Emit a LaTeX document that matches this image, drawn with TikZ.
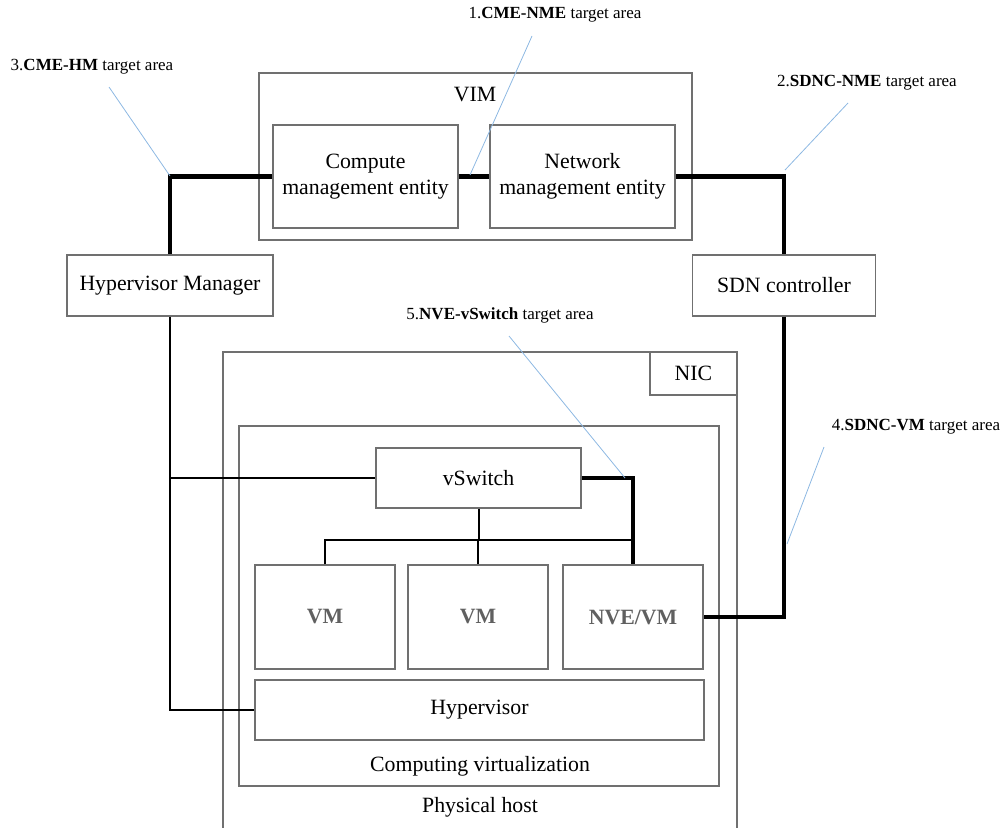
\documentclass[tikz,border=0pt]{standalone}
\usepackage{fontspec}
\setmainfont{Liberation Serif}
\begin{document}
\begin{tikzpicture}[x=1pt,y=-1pt,
  box/.style={draw=boxgray, line width=1.3pt, rectangle, inner sep=0pt, align=center,
    font=\fontsize{21.8}{25.5}\selectfont},
  vmbox/.style={box, text=vmgray, font=\fontsize{21.8}{25.5}\selectfont\bfseries},
  frame/.style={draw=boxgray, line width=1.3pt},
  lbl/.style={font=\fontsize{21.8}{25.5}\selectfont, inner sep=0pt},
  tag/.style={font=\fontsize{17}{20}\selectfont, inner sep=0pt},
  link/.style={line width=2pt, black},
  heavy/.style={line width=4.5pt, black},
  leader/.style={line width=0.8pt, leadblue}]
\definecolor{boxgray}{HTML}{707070}
\definecolor{vmgray}{HTML}{606060}
\definecolor{leadblue}{HTML}{8DB8E2}
\useasboundingbox (0,0) rectangle (1003,827);

% VIM and its two entities
\draw[frame] (259,73) rectangle (692,240);
\node[lbl] (vim) at (475,95) {VIM};
\node[box, minimum width=185pt, minimum height=103pt] (cme) at (365.5,176.5) {Compute\\management entity};
\node[box, minimum width=185pt, minimum height=103pt] (nme) at (582.5,176.5) {Network\\management entity};

% managers
\node[box, minimum width=206pt, minimum height=61pt] (hm) at (170,285.5) {Hypervisor Manager};
\node[box, minimum width=183pt, minimum height=61pt] (sdn) at (784,285.5) {SDN controller};

% physical host (runs past the lower edge)
\draw[frame] (223,840) -- (223,352) -- (737,352) -- (737,840);
\node[lbl] (ph) at (480,807) {Physical host};
\node[box, minimum width=87pt, minimum height=43pt] (nic) at (693.5,373.5) {NIC};

% computing virtualization
\draw[frame] (239,426) rectangle (719,786);
\node[lbl] (cv) at (480,766) {Computing virtualization};
\node[box, minimum width=205pt, minimum height=60pt] (vsw) at (478.5,478) {vSwitch};
\node[vmbox, minimum width=140pt, minimum height=104pt] (vm1) at (325,617) {VM};
\node[vmbox, minimum width=140pt, minimum height=104pt] (vm2) at (478,617) {VM};
\node[vmbox, minimum width=140pt, minimum height=104pt] (nve) at (633,617) {NVE/VM};
\node[box, minimum width=449pt, minimum height=60pt] (hv) at (479.5,710) {Hypervisor};

% connections
\draw[heavy] (cme.west) -| (hm.north);
\draw[heavy] (cme.east) -- (nme.west);
\draw[heavy] (nme.east) -| (sdn.north);
\draw[heavy] (sdn.south) |- (nve.east);
\draw[link] (hm.south) |- (hv.west);
\draw[link] (hm.south |- vsw.west) -- (vsw.west);
\coordinate (bus) at (478.5,540);
\draw[link] (vsw.south) -- (bus);
\draw[link] (vm1.north) |- (bus -| nve.north);
\draw[link] (vm2.north) -- (vm2.north |- bus);
\draw[heavy] (vsw.east) -| (nve.north);

% target area callouts
\node[tag] (t1) at (555,15) {1.\textbf{CME-NME} target area};
\node[tag] (t2) at (867,83) {2.\textbf{SDNC-NME} target area};
\node[tag] (t3) at (92,67) {3.\textbf{CME-HM} target area};
\node[tag] (t4) at (916,427) {4.\textbf{SDNC-VM} target area};
\node[tag] (t5) at (500,315) {5.\textbf{NVE-vSwitch} target area};
\coordinate (p1) at (532,36);  \coordinate (q1) at (470,175);
\coordinate (p2) at (848,103); \coordinate (q2) at (785,170);
\coordinate (p3) at (109,87);  \coordinate (q3) at (170,176);
\coordinate (p4) at (824,447); \coordinate (q4) at (787,544);
\coordinate (p5) at (509,336); \coordinate (q5) at (625,478);
\draw[leader] (p1) -- (q1);
\draw[leader] (p2) -- (q2);
\draw[leader] (p3) -- (q3);
\draw[leader] (p4) -- (q4);
\draw[leader] (p5) -- (q5);
\end{tikzpicture}
\end{document}
